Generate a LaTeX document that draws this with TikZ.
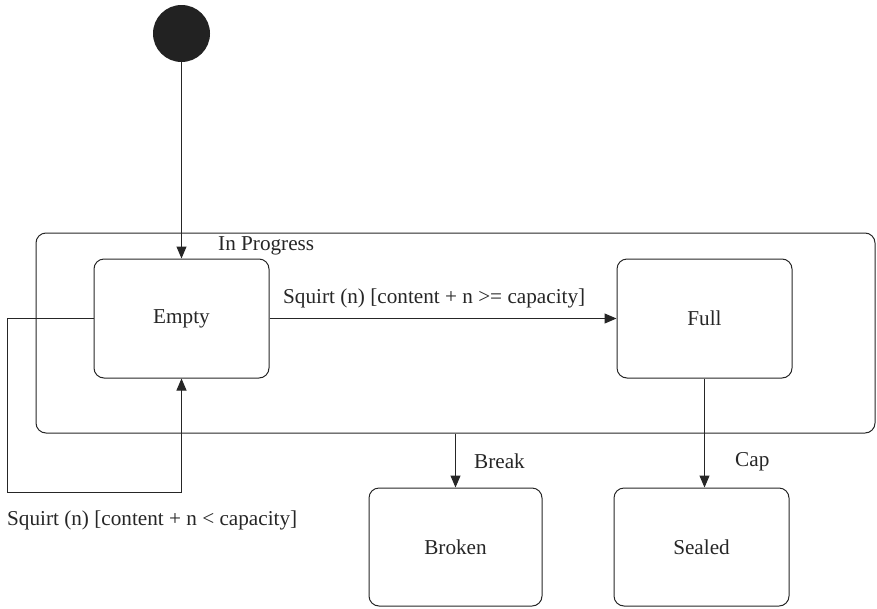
\documentclass[tikz,border=0pt]{standalone}
\usepackage{fontspec}
\setmainfont{Liberation Serif}
\usetikzlibrary{arrows.meta}
\definecolor{ink}{gray}{0.15}
\begin{document}
\begin{tikzpicture}[x=1pt,y=-1pt,
  every node/.style={font=\fontsize{21.2}{25}\selectfont, inner sep=0pt, text=ink},
  statebox/.style={draw=ink, line width=1pt, rounded corners=10pt},
  conn/.style={draw=ink, line width=1pt, -{Triangle[length=12pt,width=10pt]}},
  plain/.style={draw=ink, line width=1pt}]
  \useasboundingbox (0,0) rectangle (877,608);

  % composite state
  \node[statebox, minimum width=839pt, minimum height=200pt] (prog) at (455.5,333) {};
  \node[anchor=west] (proglabel) at (218,246) {In Progress};

  % initial pseudo-state
  \node[circle, fill=ink!90!black, minimum size=57pt] (init) at (181.5,33.5) {};

  % states
  \node[statebox, minimum width=175pt, minimum height=119pt] (empty) at (181.5,318.5) {Empty};
  \node[statebox, minimum width=175pt, minimum height=119pt] (full) at (704.5,318.5) {Full};
  \node[statebox, minimum width=173pt, minimum height=118pt] (broken) at (455.5,547) {Broken};
  \node[statebox, minimum width=175pt, minimum height=118pt] (sealed) at (701.5,547) {Sealed};

  % transitions
  \draw[conn] (init.south) -- (init.south |- empty.north);
  \draw[conn] (empty.east) -- (full.west);
  \node[anchor=west] (fill) at (283,298) {Squirt (n) [content + n >= capacity]};

  \coordinate (lc) at (7,492);
  \draw[plain] (empty.west) -| (lc);
  \draw[conn] (lc) -| (empty.south);
  \node[anchor=west] (loop) at (7,520) {Squirt (n) [content + n < capacity]};

  \draw[conn] (prog.south) -- (broken.north);
  \node[anchor=west] (brk) at (474,461) {Break};

  \draw[conn] (full.south) -- (full.south |- sealed.north);
  \node[anchor=west] (cap) at (735,462) {Cap};
\end{tikzpicture}
\end{document}
